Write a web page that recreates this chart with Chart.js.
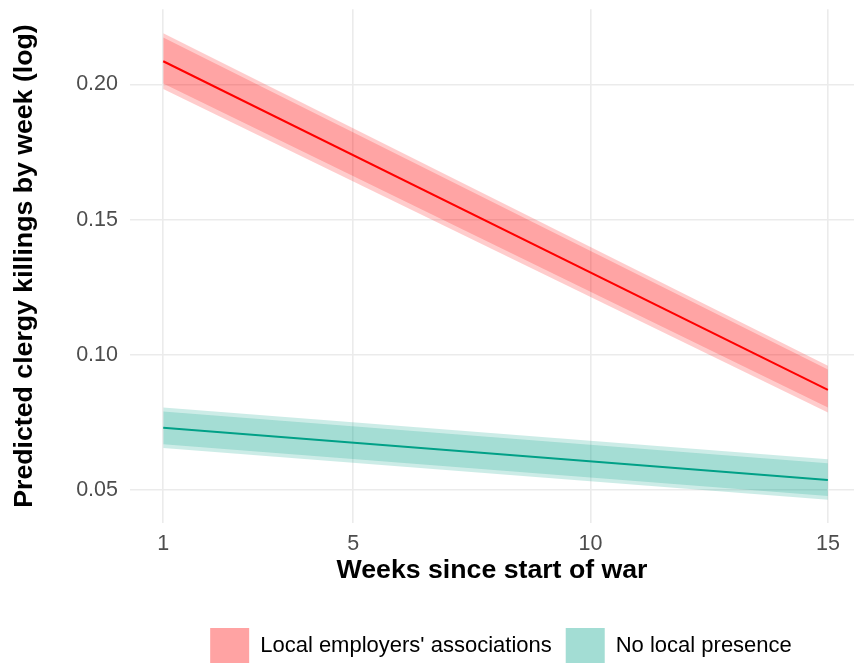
<!DOCTYPE html>
<html>
<head>
<meta charset="utf-8">
<script src="https://cdn.jsdelivr.net/npm/chart.js@4/dist/chart.umd.min.js"></script>
<style>
  html, body { margin: 0; padding: 0; background: #fff; overflow: hidden; }
  #wrap { width: 854px; height: 673px; }
</style>
</head>
<body>
<div id="wrap"><canvas id="chart"></canvas></div>
<script>
// weeks at which predictions were read
const weeks = [1, 15];

// Local employers' associations
const employersFit = [0.2086, 0.0871];
const employersInnerHi = [0.2174, 0.0946];
const employersInnerLo = [0.2004, 0.0806];
const employersOuterHi = [0.2189, 0.0960];
const employersOuterLo = [0.1983, 0.0787];

// No local presence
const noPresenceFit = [0.0731, 0.0538];
const noPresenceInnerHi = [0.0791, 0.0600];
const noPresenceInnerLo = [0.0670, 0.0479];
const noPresenceOuterHi = [0.0806, 0.0615];
const noPresenceOuterLo = [0.0656, 0.0465];

const xTicks = [1, 5, 10, 15];
const yTicks = [0.05, 0.10, 0.15, 0.20];

const seriesNames = ["Local employers' associations", 'No local presence'];

const RED = '#FF0000';
const TEAL = '#00A087';
const redBand = 'rgba(255, 0, 0, 0.2)';
const tealBand = 'rgba(0, 160, 135, 0.2)';

function pts(ys) {
    return weeks.map((w, i) => ({ x: w, y: ys[i] }));
}

function band(ys, color, fill) {
    return {
        data: pts(ys),
        borderWidth: 0,
        borderColor: 'transparent',
        backgroundColor: color,
        pointRadius: 0,
        fill: fill
    };
}

function line(ys, color, label) {
    return {
        label: label,
        data: pts(ys),
        borderColor: color,
        borderWidth: 2,
        pointRadius: 0,
        fill: false
    };
}

const FONT = 'Liberation Sans, Arial, Helvetica, sans-serif';

// nudge the legend row a little to the right, like the original
const legendShift = {
    id: 'legendShift',
    afterLayout: function (chart) {
        chart.legend.left += 9;
        chart.legend.right += 9;
    }
};

document.addEventListener('DOMContentLoaded', function () {
    const ctx = document.getElementById('chart').getContext('2d');
    new Chart(ctx, {
        type: 'line',
        data: {
            datasets: [
                line(employersFit, RED, seriesNames[0]),
                line(noPresenceFit, TEAL, seriesNames[1]),
                band(employersOuterHi, redBand, '+1'),
                band(employersOuterLo, redBand, false),
                band(employersInnerHi, redBand, '+1'),
                band(employersInnerLo, redBand, false),
                band(noPresenceOuterHi, tealBand, '+1'),
                band(noPresenceOuterLo, tealBand, false),
                band(noPresenceInnerHi, tealBand, '+1'),
                band(noPresenceInnerLo, tealBand, false)
            ]
        },
        plugins: [legendShift],
        options: {
            responsive: true,
            maintainAspectRatio: false,
            animation: false,
            layout: { padding: { top: 9.3, right: 0, left: 0, bottom: 0 } },
            scales: {
                x: {
                    type: 'linear',
                    min: 0.3,
                    max: 15.55,
                    afterBuildTicks: function (scale) {
                        scale.ticks = xTicks.map(v => ({ value: v }));
                    },
                    afterFit: function (scale) { scale.height = 91.3; },
                    ticks: {
                        color: '#4D4D4D',
                        font: { family: FONT, size: 21.5 },
                        padding: 8,
                        maxRotation: 0
                    },
                    grid: { color: '#EBEBEB', lineWidth: 1.6, drawTicks: false },
                    border: { display: false },
                    title: {
                        display: true,
                        text: 'Weeks since start of war',
                        color: '#000',
                        font: { family: FONT, size: 26.7, weight: 'bold' },
                        padding: { top: 4, bottom: 27 }
                    }
                },
                y: {
                    min: 0.038,
                    max: 0.2278,
                    afterBuildTicks: function (scale) {
                        scale.ticks = yTicks.map(v => ({ value: v }));
                    },
                    afterFit: function (scale) {
                        scale.width = 130;
                        scale.paddingTop = 0;
                        scale.paddingBottom = 0;
                    },
                    ticks: {
                        color: '#4D4D4D',
                        font: { family: FONT, size: 21.5 },
                        padding: 12,
                        callback: v => v.toFixed(2)
                    },
                    grid: { color: '#EBEBEB', lineWidth: 1.6, drawTicks: false },
                    border: { display: false },
                    title: {
                        display: true,
                        text: 'Predicted clergy killings by week (log)',
                        color: '#000',
                        font: { family: FONT, size: 26.7, weight: 'bold' },
                        padding: { top: 9, bottom: 0 }
                    }
                }
            },
            plugins: {
                legend: {
                    display: true,
                    position: 'bottom',
                    fullSize: false,
                    labels: {
                        boxWidth: 39,
                        boxHeight: 35,
                        padding: 14,
                        color: '#000',
                        font: { family: FONT, size: 22 },
                        generateLabels: function () {
                            return [
                                { text: seriesNames[0], fillStyle: 'rgba(255, 0, 0, 0.36)', strokeStyle: 'transparent', lineWidth: 0, hidden: false, datasetIndex: 0 },
                                { text: seriesNames[1], fillStyle: 'rgba(0, 160, 135, 0.36)', strokeStyle: 'transparent', lineWidth: 0, hidden: false, datasetIndex: 1 }
                            ];
                        }
                    }
                },
                tooltip: { enabled: false }
            }
        }
    });
});
</script>
</body>
</html>
